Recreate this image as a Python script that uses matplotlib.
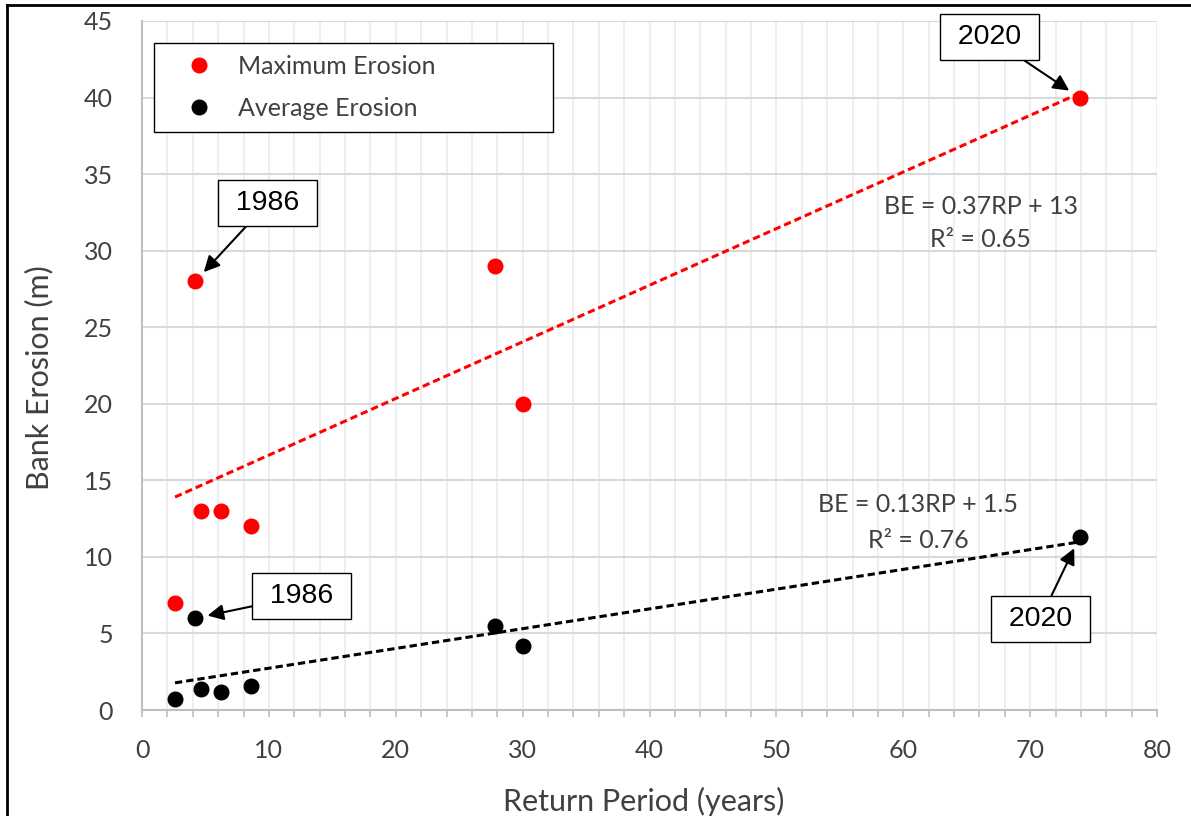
import numpy as np
import matplotlib
matplotlib.use("Agg")
import matplotlib.pyplot as plt
from matplotlib.lines import Line2D

# ---- data ----
return_period = [2.6, 4.2, 4.65, 6.2, 8.6, 27.8, 30.0, 73.9]
max_erosion = [7.0, 28.0, 13.0, 13.0, 12.0, 29.0, 20.0, 40.0]
avg_erosion = [0.7, 6.0, 1.4, 1.2, 1.6, 5.5, 4.2, 11.3]

max_eq = ["BE = 0.37RP + 13", "R² = 0.65"]
avg_eq = ["BE = 0.13RP + 1.5", "R² = 0.76"]

# year labels: (series, point index, text, text position x, y)
year_notes = [
    ("max", 1, "1986", 9.9, 33.1),
    ("avg", 1, "1986", 12.6, 7.45),
    ("max", 7, "2020", 66.8, 43.95),
    ("avg", 7, "2020", 70.8, 5.95),
]

TXT = "#404040"
FONT = "Lato"
FS = 18

fig = plt.figure(figsize=(11.91, 8.16), dpi=100)
ax = fig.add_axes([142 / 1191, 1 - 710 / 816, 1015 / 1191, 689 / 816])

x = np.array(return_period)
ymax = np.array(max_erosion)
yavg = np.array(avg_erosion)

# trendlines (linear fits)
xs = np.array([x.min(), x.max()])
for yy, col in [(ymax, "#ff0000"), (yavg, "black")]:
    k, b = np.polyfit(x, yy, 1)
    ax.plot(xs, k * xs + b, color=col, lw=2.2, ls=(0, (2.4, 1.3)), zorder=2)

ax.plot(x, ymax, "o", ls="none", color="#ff0000", ms=10.5, zorder=3,
        label="Maximum Erosion")
ax.plot(x, yavg, "o", ls="none", color="black", ms=10.5, zorder=3,
        label="Average Erosion")

# axes look
ax.set_xlim(0, 80)
ax.set_ylim(0, 45)
ax.set_xticks(np.arange(0, 81, 10))
ax.set_xticks(np.arange(0, 81, 2), minor=True)
ax.set_yticks(np.arange(0, 46, 5))
ax.grid(True, axis="x", which="both", color="#ebebeb", lw=1.2, zorder=0)
ax.grid(True, axis="y", which="major", color="#d9d9d9", lw=1.5, zorder=0)
ax.set_axisbelow(True)
for s in ["top", "right"]:
    ax.spines[s].set_visible(False)
for s in ["left", "bottom"]:
    ax.spines[s].set_color("#bfbfbf")
    ax.spines[s].set_linewidth(1.5)

ax.tick_params(axis="x", which="both", direction="out", length=5, width=1.2,
               color="#bfbfbf", labelsize=FS, labelcolor=TXT, pad=16)
ax.tick_params(axis="y", which="both", length=0, labelsize=FS,
               labelcolor=TXT, pad=21)
for lab in ax.get_xticklabels() + ax.get_yticklabels():
    lab.set_family(FONT)

ax.set_xlabel("Return Period (years)", fontsize=22, color=TXT, family=FONT)
ax.set_ylabel("Bank Erosion (m)", fontsize=22, color=TXT, family=FONT)
ax.xaxis.set_label_coords(0.4946, -0.111)
ax.yaxis.set_label_coords(-0.0877, 0.482)

leg = ax.legend(loc="upper left", mode="expand",
                bbox_to_anchor=(12 / 1015, (710 - 131) / 689, 399 / 1015, 88 / 689),
                borderaxespad=0, fancybox=False, framealpha=1,
                edgecolor="black", handlelength=2.64, handletextpad=0.26,
                borderpad=0.46, labelspacing=0.78,
                prop={"family": FONT, "size": FS})
leg.get_frame().set_linewidth(1.0)
for t in leg.get_texts():
    t.set_color(TXT)

# equations
for txt, ty in zip(max_eq, [32.9, 30.7]):
    ax.text(66.1, ty, txt, ha="center", va="center", fontsize=FS,
            color=TXT, family=FONT)
for txt, ty in zip(avg_eq, [13.4, 11.1]):
    ax.text(61.2, ty, txt, ha="center", va="center", fontsize=FS,
            color=TXT, family=FONT)

# year call-outs
for series, i, txt, tx, ty in year_notes:
    py = ymax[i] if series == "max" else yavg[i]
    ax.annotate(" " + txt + " ", xy=(x[i], py), xytext=(tx, ty),
                ha="center", va="center", fontsize=20.5, family="Liberation Sans",
                bbox=dict(boxstyle="square,pad=0.35", fc="white", ec="black", lw=1.0),
                arrowprops=dict(arrowstyle="-|>,head_length=0.6,head_width=0.3",
                                color="black", lw=1.5, mutation_scale=16,
                                shrinkA=0, shrinkB=9),
                zorder=5)

# outer frame (top and left edges visible in the original crop)
fig.add_artist(Line2D([7 / 1191, 7 / 1191], [0, 1 - 5 / 816], color="black", lw=2))
fig.add_artist(Line2D([7 / 1191, 1], [1 - 5 / 816, 1 - 5 / 816], color="black", lw=2))

fig.savefig("out.png", dpi=100)
